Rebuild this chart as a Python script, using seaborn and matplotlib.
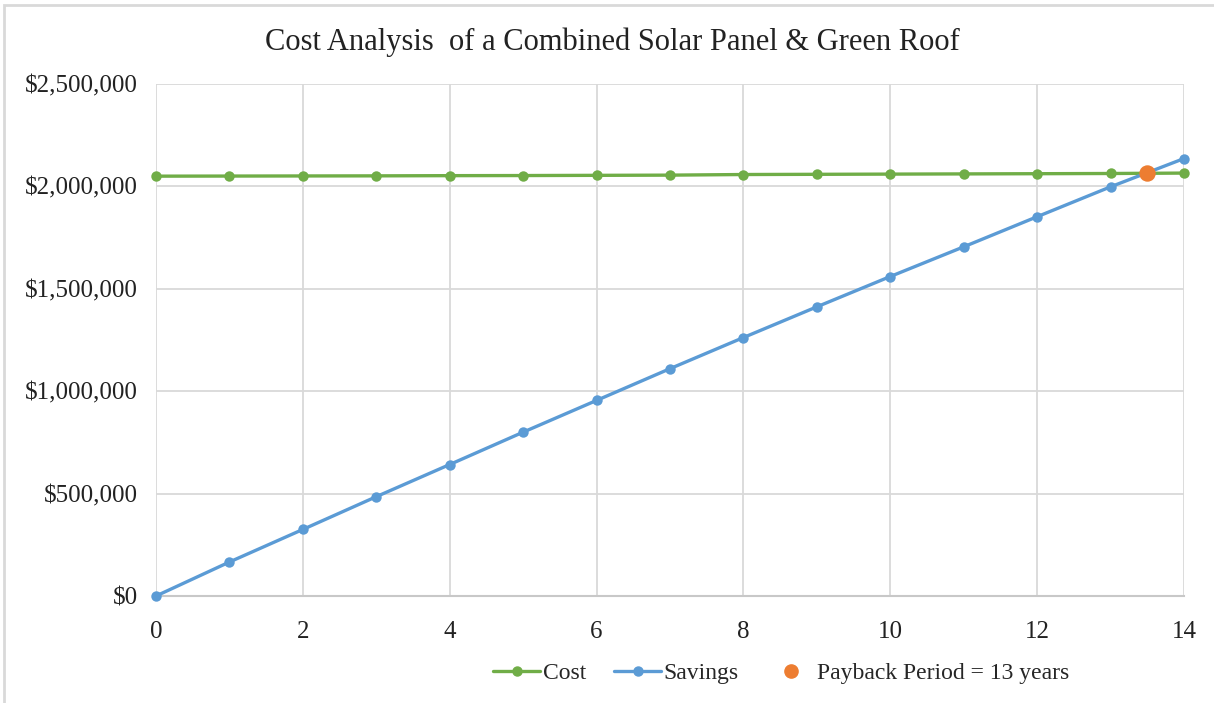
#!/usr/bin/env python3
"""Cost vs cumulative savings for a combined solar panel and green roof."""

import numpy as np
import pandas as pd
import seaborn as sns
from matplotlib import pyplot as plt
from matplotlib.lines import Line2D
from matplotlib.patches import Rectangle
from matplotlib.ticker import FuncFormatter

years = [0, 1, 2, 3, 4, 5, 6, 7, 8, 9, 10, 11, 12, 13, 14]
cost = [2050000, 2050500, 2051000, 2051500, 2052500, 2053000, 2054000, 2055000,
        2058000, 2059000, 2060000, 2061000, 2062000, 2063000, 2065000]
savings = [0, 166000, 325000, 485000, 642000, 800000, 955000, 1110000,
           1262000, 1412000, 1560000, 1705000, 1852000, 1998000, 2136000]
payback_year = [13.5]
payback_value = [2064000]

GREEN = "#70ad47"
BLUE = "#5b9bd5"
ORANGE = "#ed7d31"
GRID = "#d9d9d9"

sns.set_theme(style="white")
plt.rcParams["font.family"] = ["Liberation Serif", "DejaVu Serif"]

df = pd.DataFrame({"Year": years, "Cost": cost, "Savings": savings})

fig = plt.figure(figsize=(12.14, 7.03), dpi=100)
ax = fig.add_axes([156 / 1214, 1 - 596 / 703, (1184 - 156) / 1214, (596 - 84) / 703])

sns.lineplot(data=df, x="Year", y="Cost", ax=ax, color=GREEN, linewidth=2.4,
             marker="o", markersize=7.5, markeredgewidth=0, zorder=3, clip_on=False)
sns.lineplot(data=df, x="Year", y="Savings", ax=ax, color=BLUE, linewidth=2.4,
             marker="o", markersize=7.5, markeredgewidth=0, zorder=3, clip_on=False)
sns.scatterplot(x=payback_year, y=payback_value, ax=ax, color=ORANGE, s=140,
                linewidth=0, zorder=4, clip_on=False)

ax.set_xlim(0, 14)
ax.set_ylim(0, 2500000)
ax.set_xticks(np.arange(0, 15, 2))
ax.set_yticks(np.arange(0, 2500001, 500000))
ax.yaxis.set_major_formatter(FuncFormatter(lambda v, _: f"${v:,.0f}"))
ax.grid(True, color=GRID, linewidth=1.3)
ax.set_axisbelow(True)
for side in ("top", "right", "left"):
    ax.spines[side].set_visible(False)
ax.spines["bottom"].set_color("#c8c8c8")
ax.spines["bottom"].set_linewidth(1.5)
ax.tick_params(length=0, labelsize=18, colors="#222222")
ax.tick_params(axis="y", pad=13)
ax.tick_params(axis="x", pad=18)
ax.set_xlabel("")
ax.set_ylabel("")

fig.text(612 / 1214, 1 - 42 / 703, "Cost Analysis  of a Combined Solar Panel & Green Roof",
         ha="center", va="center", fontsize=22, color="#222222")

handles = [
    Line2D([], [], color=GREEN, linewidth=2.4, marker="o", markersize=6.5),
    Line2D([], [], color=BLUE, linewidth=2.4, marker="o", markersize=6.5),
    Line2D([], [], color=ORANGE, linestyle="none", marker="o", markersize=9.5),
]
fig.legend(handles, ["Cost", "Savings", "Payback Period = 13 years"],
           loc="center", bbox_to_anchor=(781 / 1214, 1 - 673 / 703), ncol=3,
           frameon=False, fontsize=17, handlelength=2.0, handletextpad=0.1,
           columnspacing=1.2)

# light chart-area border (top and left edges visible in the reference)
fig.patches.append(Rectangle((4 / 1214, -0.05), 1.1, 1 - 5 / 703 + 0.05,
                             transform=fig.transFigure, fill=False,
                             edgecolor="#d9d9d9", linewidth=2))

fig.savefig("out.png", dpi=100)
plt.close(fig)
